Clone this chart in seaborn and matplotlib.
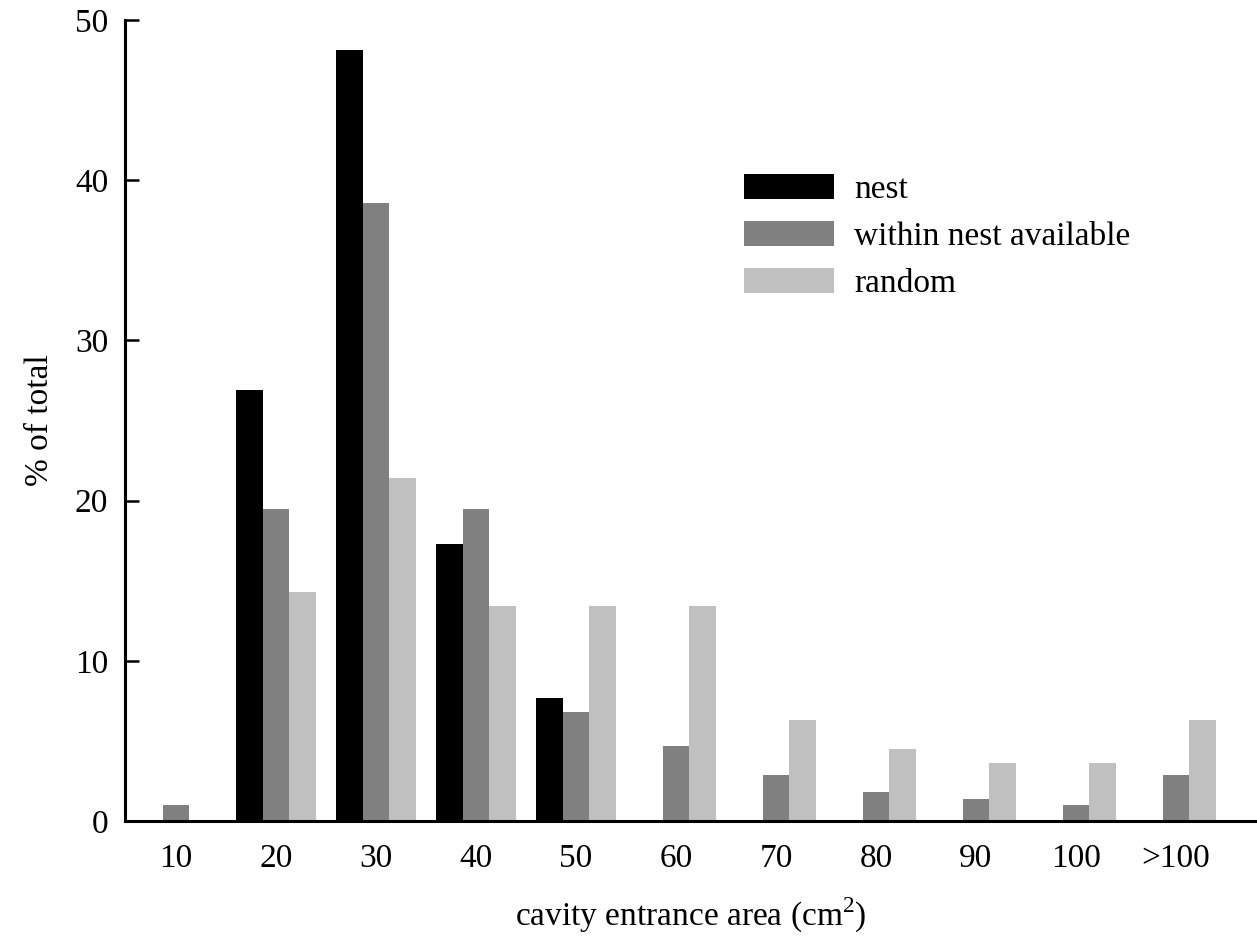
import matplotlib

matplotlib.use("Agg")

import matplotlib.pyplot as plt
import pandas as pd
import seaborn as sns
from matplotlib.patches import Patch

# values (% of total)
categories = ["10", "20", "30", "40", "50", "60", "70", "80", "90", "100", ">100"]
nest = [0.0, 26.9, 48.1, 17.3, 7.7, 0.0, 0.0, 0.0, 0.0, 0.0, 0.0]
within_available = [1.0, 19.5, 38.6, 19.5, 6.8, 4.7, 2.9, 1.8, 1.4, 1.0, 2.9]
random_sites = [0.0, 14.3, 21.4, 13.4, 13.4, 13.4, 6.3, 4.5, 3.6, 3.6, 6.3]

series_names = ["nest", "within nest available", "random"]
series_colors = ["#000000", "#808080", "#c0c0c0"]

frames = []
for name, values in zip(series_names, [nest, within_available, random_sites]):
    frames.append(pd.DataFrame({"area": categories, "pct": values, "group": name}))
df = pd.concat(frames, ignore_index=True)

sns.set_style("ticks")
plt.rcParams["font.family"] = ["Liberation Serif", "DejaVu Serif"]
plt.rcParams["mathtext.fontset"] = "custom"
plt.rcParams["mathtext.rm"] = "Liberation Serif"
plt.rcParams["text.color"] = "black"
plt.rcParams["axes.labelcolor"] = "black"
plt.rcParams["xtick.color"] = "black"
plt.rcParams["ytick.color"] = "black"
plt.rcParams["axes.edgecolor"] = "black"

fig = plt.figure(figsize=(12.57, 9.52), dpi=100)
ax = fig.add_axes([0.0994, 0.1376, 0.9006, 0.8414])

sns.barplot(
    data=df, x="area", y="pct", hue="group", order=categories,
    hue_order=series_names, palette=series_colors, width=0.8,
    saturation=1, linewidth=0, errorbar=None, legend=False, ax=ax,
)

ax.set_xlim(-0.51, 10.81)
ax.set_ylim(0, 50)
ax.set_yticks([0, 10, 20, 30, 40, 50])
ax.tick_params(axis="y", direction="in", length=10, width=1.8, labelsize=24, pad=12)
ax.tick_params(axis="x", length=0, labelsize=24, pad=16)
for side in ["top", "right"]:
    ax.spines[side].set_visible(False)
for side in ["left", "bottom"]:
    ax.spines[side].set_linewidth(2.2)

ax.set_xlabel("cavity entrance area (cm$^{2}$)", fontsize=24, labelpad=16)
ax.set_ylabel("% of total", fontsize=24, labelpad=14)

handles = [Patch(facecolor=c, edgecolor="none") for c in series_colors]
ax.legend(
    handles, series_names, loc="upper left", bbox_to_anchor=(0.535, 0.825),
    frameon=False, fontsize=24, handlelength=2.7, handleheight=0.8,
    handletextpad=0.6, labelspacing=0.47, borderaxespad=0,
)

fig.savefig("out.png", dpi=100)
